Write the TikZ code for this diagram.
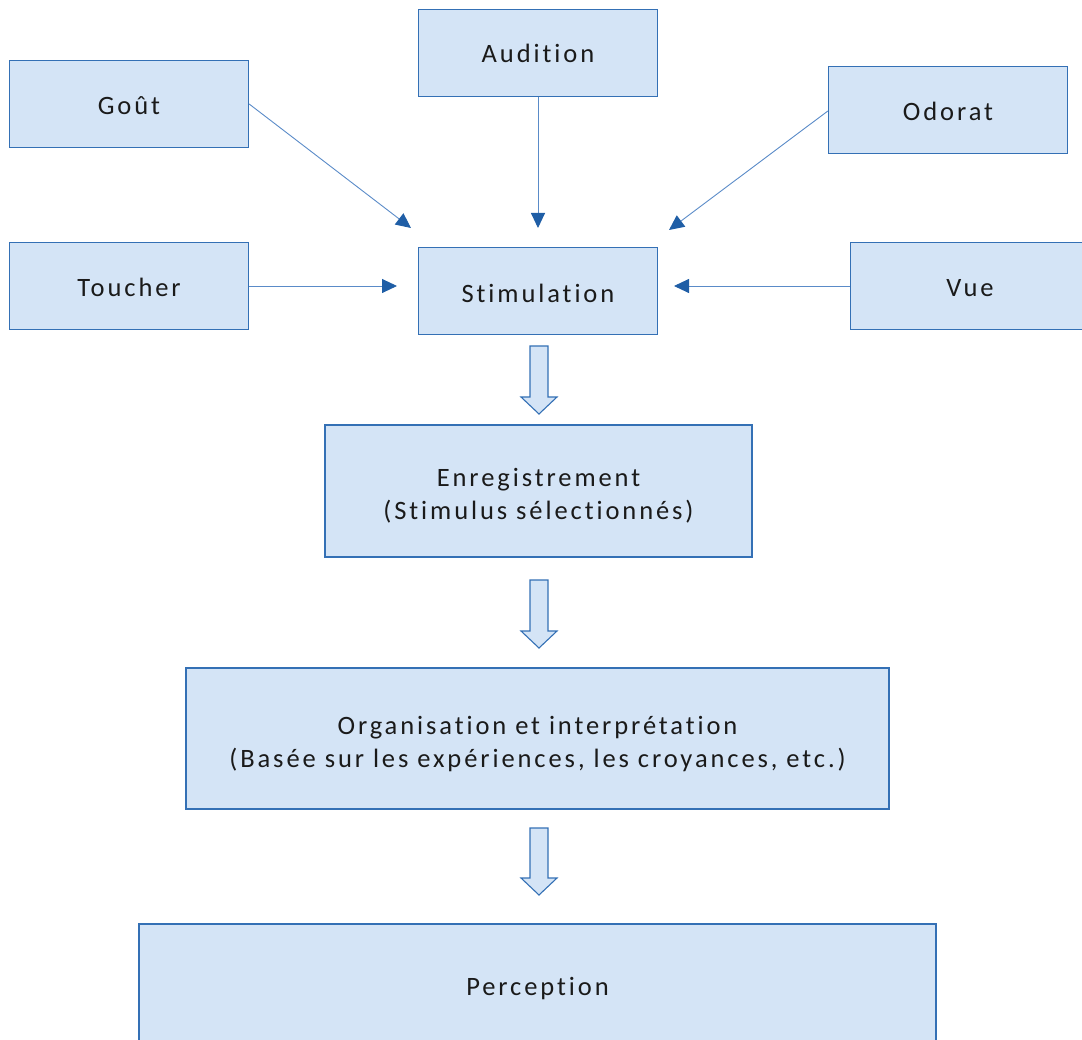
\documentclass[tikz,border=0pt]{standalone}
\usepackage{fontspec}
\setmainfont{Carlito}[LetterSpace=11,Ligatures=NoCommon]
\usetikzlibrary{arrows.meta}
\definecolor{boxfill}{HTML}{D4E4F6}
\definecolor{boxline}{HTML}{3470B5}
\definecolor{conline}{HTML}{5A8BC8}
\definecolor{tipcol}{HTML}{1F5EA6}
\definecolor{txt}{HTML}{1A1A1A}
\begin{document}
\begin{tikzpicture}[x=1pt,y=-1pt,
  box/.style={draw=boxline,fill=boxfill,line width=1.3pt,inner sep=0pt,
    text=txt,align=center,font=\fontsize{26.5}{33}\selectfont},
  drop/.style={execute at begin node={\rule{0pt}{#1}}},
  conn/.style={draw=conline,line width=0.9pt,
    -{Triangle[length=15pt,width=14pt,color=tipcol]}},
  blockarrow/.style={draw=boxline,fill=boxfill,line width=1.1pt,line join=miter}]
\useasboundingbox (0,0) rectangle (1082,1040);
\node[box,drop=21pt,minimum width=239pt,minimum height=87pt] (gout) at (129,104) {Goût};
\node[box,minimum width=239pt,minimum height=87pt] (audition) at (538,53) {Audition};
\node[box,drop=21pt,minimum width=239pt,minimum height=87pt] (odorat) at (948,110) {Odorat};
\node[box,drop=21pt,minimum width=239pt,minimum height=87pt] (toucher) at (129,286) {Toucher};
\node[box,drop=23pt,minimum width=239pt,minimum height=87pt] (stim) at (538,291) {Stimulation};
\node[box,drop=21pt,minimum width=239pt,minimum height=87pt] (vue) at (970,286) {Vue};
\node[box,minimum width=427pt,minimum height=132pt] (enreg) at (538.5,491) {\rule{0pt}{28pt}Enregistrement\\(Stimulus sélectionnés)};
\node[box,minimum width=703pt,minimum height=141pt] (org) at (537.5,738.5) {\rule{0pt}{30pt}Organisation et interprétation\\(Basée sur les expériences, les croyances, etc.)};
\node[box,drop=23pt,minimum width=797pt,minimum height=124pt] (perc) at (537.5,986) {Perception};
% free arrow ends
\coordinate (tg) at (411,228);
\coordinate (ta) at (538,228);
\coordinate (to) at (669,230);
\coordinate (tt) at (397,286);
\coordinate (tv) at (674,286);
\draw[conn] (gout.east) -- (tg);
\draw[conn] (audition.south) -- (ta);
\draw[conn] (odorat.west) ++(0,1) -- (to);
\draw[conn] (toucher.east) -- (tt);
\draw[conn] (vue.west) -- (tv);
% block arrows
\foreach \t/\b in {346/414, 580/648, 828/895}{
  \pgfmathsetmacro{\h}{\b-17}
  \draw[blockarrow] (530,\t) -- (548,\t) -- (548,\h) -- (557,\h) -- (539,\b) -- (521,\h) -- (530,\h) -- cycle;
}
\end{tikzpicture}
\end{document}
